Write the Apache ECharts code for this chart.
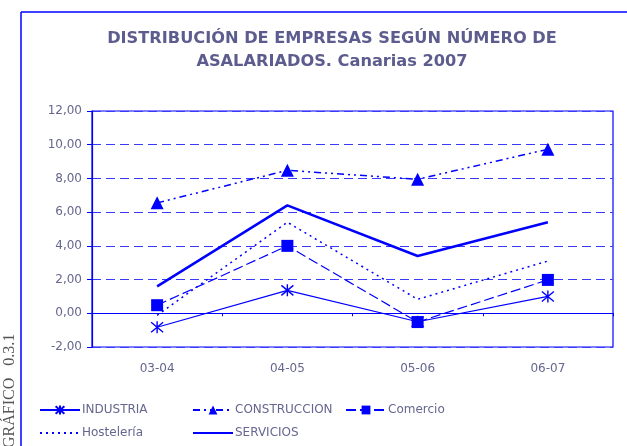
<!DOCTYPE html>
<html>
<head>
<meta charset="utf-8">
<title>Distribución de empresas</title>
<script src="https://cdn.jsdelivr.net/npm/echarts@6/dist/echarts.min.js"></script>
<style>
  html, body { margin: 0; padding: 0; background: #fff; }
  #chart { width: 627px; height: 446px; }
</style>
</head>
<body>
<div id="chart"></div>
<script>
var periodos = ['03-04', '04-05', '05-06', '06-07'];
var industria = [-0.83, 1.36, -0.5, 1.0];
var construccion = [6.55, 8.48, 7.95, 9.73];
var comercio = [0.48, 4.0, -0.52, 1.98];
var hosteleria = [-0.12, 5.4, 0.83, 3.1];
var servicios = [1.6, 6.4, 3.4, 5.4];

var AZUL = '#0000ff';
var TEXTO = '#66668f';

var chart = echarts.init(document.getElementById('chart'));

// asterisco para INDUSTRIA
var asterisco = 'path://M0,0L10,10M10,0L0,10M5,-1L5,11M5,5';

function leyenda(nombre, left, top, sinSimbolo) {
  var item = { name: nombre };
  if (sinSimbolo) item.itemStyle = { color: 'rgba(0,0,0,0)', borderColor: 'rgba(0,0,0,0)', opacity: 0 };
  return {
    data: [item], left: left, top: top,
    itemWidth: 40, itemHeight: 11, itemGap: 0,
    textStyle: { color: TEXTO, fontSize: 12, fontFamily: 'DejaVu Sans', padding: [0, 0, 0, -3] },
    selectedMode: false
  };
}

var option = {
  backgroundColor: '#fff',
  animation: false,
  title: {
    text: 'DISTRIBUCIÓN DE EMPRESAS SEGÚN NÚMERO DE\nASALARIADOS. Canarias 2007',
    left: 327, top: 22, textAlign: 'center',
    textStyle: { color: '#5c5c8e', fontSize: 16.2, fontWeight: 'bold', fontFamily: 'DejaVu Sans', lineHeight: 23 }
  },
  grid: { left: 92, right: 14, top: 111, bottom: 99, show: true, borderColor: AZUL, borderWidth: 1.2 },
  legend: [
    leyenda('INDUSTRIA', 34, 399),
    leyenda('CONSTRUCCION', 187, 399),
    leyenda('Comercio', 340, 399),
    leyenda('Hostelería', 34, 422, true),
    leyenda('SERVICIOS', 187, 422, true)
  ],
  xAxis: [{
    type: 'category', data: periodos, boundaryGap: true,
    axisLine: { onZero: true, lineStyle: { color: AZUL, width: 1.2 } },
    axisTick: { show: true, inside: false, length: 3, lineStyle: { color: AZUL } },
    axisLabel: { show: false }
  }, {
    type: 'category', data: periodos, position: 'bottom',
    axisLine: { show: false, onZero: false },
    axisTick: { show: false },
    axisLabel: { color: TEXTO, fontSize: 12, fontFamily: 'DejaVu Sans', margin: 16 }
  }],
  yAxis: {
    type: 'value', min: -2, max: 12, interval: 2,
    axisLine: { show: true, lineStyle: { color: AZUL, width: 1.2 } },
    axisTick: { show: true, length: 5, lineStyle: { color: AZUL } },
    axisLabel: {
      color: TEXTO, fontSize: 12, fontFamily: 'DejaVu Sans', margin: 10,
      formatter: function (v) { return v.toFixed(2).replace('.', ','); }
    },
    splitLine: { show: true, lineStyle: { color: '#3a3aff', type: [9, 5], width: 1 } }
  },
  series: [
    {
      name: 'INDUSTRIA', type: 'line', data: industria,
      symbol: asterisco, symbolSize: 12,
      lineStyle: { color: AZUL, width: 1.2 },
      itemStyle: { color: 'rgba(0,0,0,0)', borderColor: AZUL, borderWidth: 1.4 }
    },
    {
      name: 'CONSTRUCCION', type: 'line', data: construccion,
      symbol: 'triangle', symbolSize: 13,
      lineStyle: { color: AZUL, width: 1.5, type: [7, 4, 2, 4, 2, 4] },
      itemStyle: { color: AZUL }
    },
    {
      name: 'Comercio', type: 'line', data: comercio,
      symbol: 'rect', symbolSize: 12,
      lineStyle: { color: AZUL, width: 1.2, type: [10, 4] },
      itemStyle: { color: AZUL }
    },
    {
      name: 'Hostelería', type: 'line', data: hosteleria,
      symbol: 'none',
      lineStyle: { color: AZUL, width: 1.5, type: [2, 4] },
      itemStyle: { color: AZUL }
    },
    {
      name: 'SERVICIOS', type: 'line', data: servicios,
      symbol: 'none',
      lineStyle: { color: AZUL, width: 2.5 },
      itemStyle: { color: AZUL }
    }
  ],
  graphic: [
    { type: 'line', shape: { x1: 21, y1: 12, x2: 627, y2: 12 }, style: { stroke: AZUL, lineWidth: 1.5 } },
    { type: 'line', shape: { x1: 21, y1: 12, x2: 21, y2: 446 }, style: { stroke: AZUL, lineWidth: 1.5 } },
    {
      type: 'text', x: 2, y: 448, rotation: Math.PI / 2,
      style: { text: 'GRÁFICO   0.3.1', fill: '#555', font: '16px "Liberation Serif"', textVerticalAlign: 'top' }
    }
  ]
};

chart.setOption(option);
</script>
</body>
</html>
